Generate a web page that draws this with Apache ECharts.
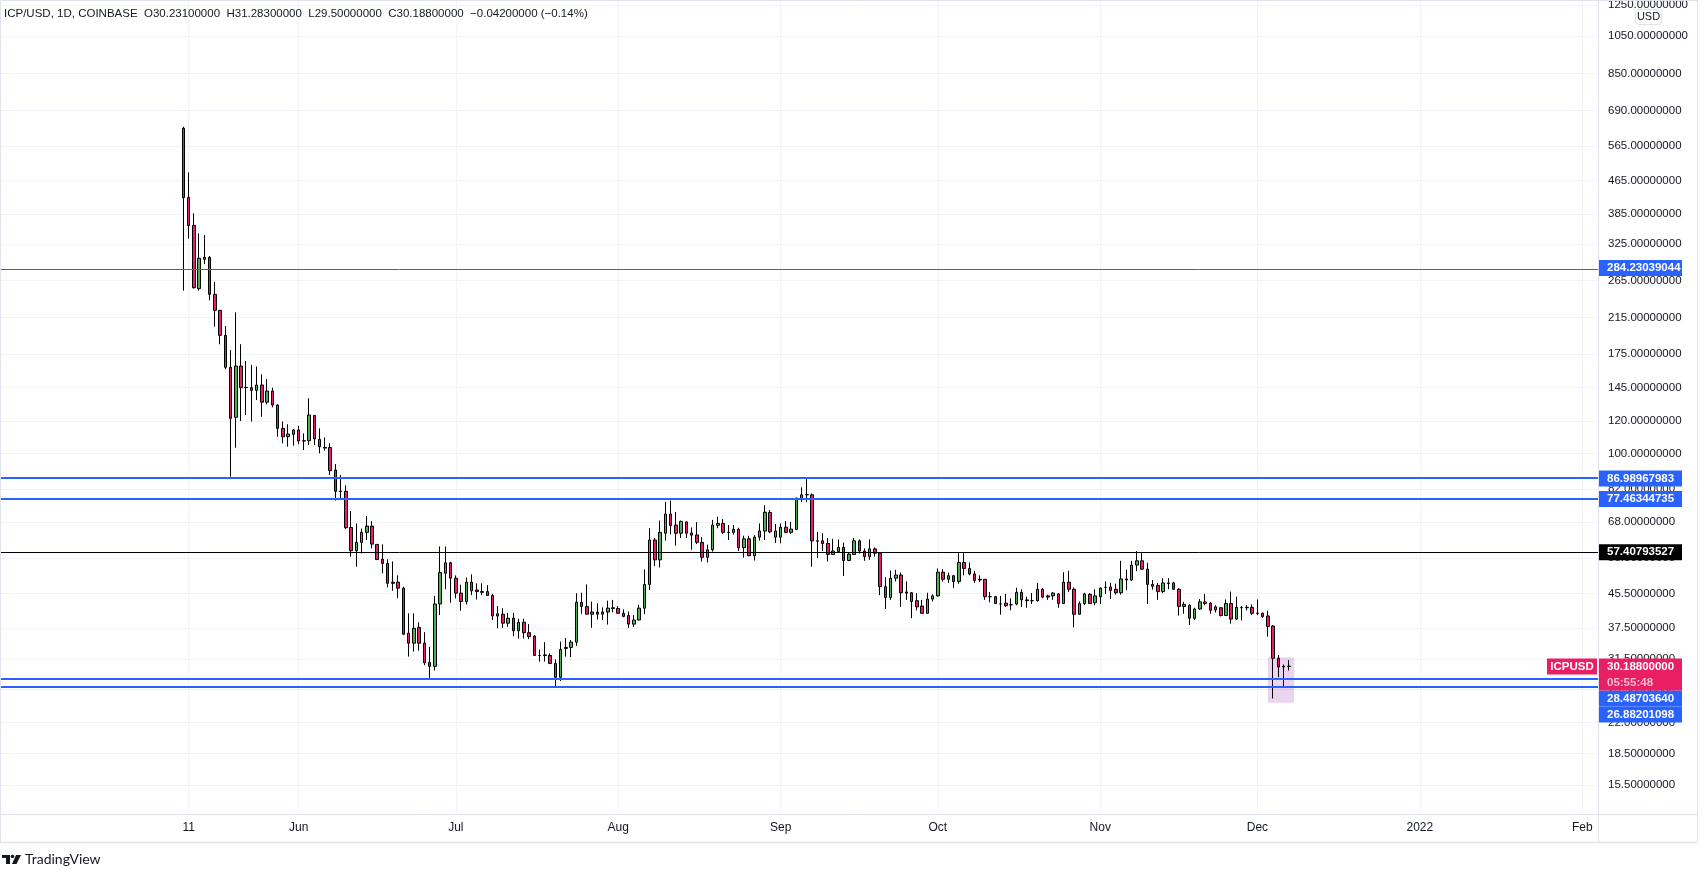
<!DOCTYPE html>
<html>
<head>
<meta charset="utf-8">
<script src="https://cdn.jsdelivr.net/npm/echarts@6/dist/echarts.min.js"></script>
<style>
html,body{margin:0;padding:0;background:#ffffff;}
#chart{width:1708px;height:877px;}
</style>
</head>
<body>
<div id="chart"></div>
<script>
// ---------------- DATA ----------------
const titleText = 'ICP/USD, 1D, COINBASE  O30.23100000  H31.28300000  L29.50000000  C30.18800000  \u22120.04200000 (\u22120.14%)';
const symbolName = 'ICPUSD';
const countdownText = '05:55:48';
const firstCandleDate = '2021-05-10';
const axisStartDate = '2021-04-05';
const axisEndDate = '2022-02-04';

// daily candles, May 10 2021 .. Dec 7 2021
const opens = [
  624.6,423.4,361.5,253.2,298.7,302,245.2,224.1,194.7,162.6,122.7,163.8,145.2,145,142.8,147.2,133.6,142.3,131.5,115.3,110,111.5,
  114.3,107.5,107.5,124,108.4,103.6,103.5,91.2,81,80.9,66,57.9,60.7,64.2,66.5,60,55.2,53.9,48.5,48.5,46.9,36.4,34.4,37.6,34.4,30.9,30.2,42.9,51,54.1,
  49.6,45.6,43.5,48.5,46.4,46,46,45,40.6,40.5,38.5,39.6,36.9,38.7,36.5,35.8,32.1,32.2,32.1,30.7,28.4,33.4,33.6,34.6,43.3,42.3,40.5,41,40.5,41,41.8,
  41.8,40.7,40.2,38.3,39.2,41.9,47.9,61.5,55,63.9,71.2,66.9,63.9,68.1,64,63.3,60.7,55.8,58.2,66.8,67.5,64.2,64.2,65.3,58.9,61.9,56.3,62.5,64.7,71.8,62.5,
  62.5,66.1,64.2,65.3,77.8,79.3,79.3,61.2,61.2,60.3,56.7,57.6,59,54.8,56.7,61.2,57.8,56,58.5,57.1,47.3,44.5,49.6,50.5,45.9,45.7,43.7,42.4,40.7,44.1,
  44.9,51.3,49.3,50.3,48.7,54.2,52.4,50.8,49.3,49.3,44.7,44.7,42.9,43.1,42.7,42.9,45.8,43.9,43.7,43.7,46.6,44.9,44.9,45.4,43,48.5,46.6,40.5,43,45.3,43.2,
  44.7,47.1,47.2,46.6,45.7,49.1,49.1,53.4,54.7,52.2,47.9,47.6,46,48.1,48.3,46.6,42.3,42.6,39.6,41.7,43.4,43.1,41.5,42,40.2,43,39.4,42,42,42.1,
  40.7,40.7,40.1,37.9,31.6,30.1,30.231
];
const highs = [
  630,487.4,386.9,345.7,342.5,304.3,262.9,224.5,205.2,179.2,221.6,185.1,168.5,164.8,163.3,156.3,152.2,145,132,119.8,118,114.9,
  116.9,112.1,136.6,124.3,115.3,109.6,106,94.3,88.7,83.7,72.4,67.5,65.6,70.4,68.4,60.1,60,55.2,54.5,50.4,47.3,40.7,40.7,38.7,36.6,33.7,44.9,59.3,59.3,54.4,
  50.4,47.8,49.8,50.7,48.2,48.2,47.7,45.4,42.4,41.9,40.8,40.8,39.5,39.5,38.3,36,33.2,34.6,32.5,31.4,34.7,35.4,35,45.6,45.7,47.9,43.5,43.1,42.1,43.7,43.9,
  42.4,41.6,41.1,40.3,42.7,52.1,65.7,62.2,68.6,76.2,76.8,72,68.6,68.3,66,68,62.5,59.9,68.9,70.1,69.2,66.9,66.9,65.9,63,63,63.2,67.5,74.8,72.8,67.3,
  67.5,68.4,68.1,78.1,82.7,86.6,79.9,64.4,63.9,62.2,61.9,61.7,60.6,57.2,62.2,61.7,58.7,61.7,59,57.3,49.9,51.8,52,51.2,48.7,45.9,45.6,43.9,45.7,45.3,
  52.4,52.2,51.2,50.4,57.1,57.1,54.2,51.7,50.4,49.3,45.9,44.9,44.9,45.4,44.3,47,46.6,44.7,45.6,48.3,46.9,45.2,45.9,45.6,51.3,51.7,47.1,43.5,45.7,45.6,46.6,
  47.1,48.7,48.3,48.1,54.7,52,54.7,57.8,57.1,54.1,49.1,48.3,49.6,49.6,48.6,46.9,43.4,42.8,42,44.1,45.4,43.4,42.6,42.1,44,46,44.7,42.4,42.6,42.8,
  44,40.9,41.3,38.1,32.2,30.5,31.283
];
const lows = [
  250.3,335.5,253.2,250.3,290.9,237.1,204.4,185.1,160.8,87.8,103.4,120.2,124.3,119.8,135.3,123.1,132,129.8,110,106,104,104.6,
  105.4,102.1,105,105,100.2,101.7,88.7,76.8,77.3,65.4,56,52.9,57,61.5,58.7,54.9,51,47.1,46.2,44.3,36,31.9,32.8,33,30.4,28.3,29.5,40.3,46.6,43.2,
  44.3,41.3,42.8,45.1,44,45.1,44.9,39.2,37.4,37.5,37.7,35.8,35.3,35.3,35.2,32,31,31,30.6,26.9,27.8,31.9,31.8,33.9,40.6,40.5,37.5,39.3,39.2,38.2,40.9,
  40.7,39.8,37.5,37.7,39.1,40.5,46.4,53.1,52.7,61.3,63.5,59.6,62.2,62.2,58.2,60.1,54.5,54.2,57.6,65.7,63.6,61.5,63.4,57.8,55.7,56.1,54.8,61.3,61.5,63.9,60.5,
  60.4,63.9,63.6,65,76.1,76.1,52.9,55.6,57.8,54.5,56.5,57.2,50.2,54.6,56.5,57,54.7,55,56,45.1,41.7,43.9,48.7,42.2,43.9,39.6,41.4,40.7,40.7,43.5,
  44.7,48.7,48.3,46.9,48.1,50.4,50.4,48.3,48.5,43.9,43.3,42.9,40.4,42.2,41.4,42.6,42.2,42,42.9,43.5,44.3,43.9,43.9,42,42.9,45.9,37.6,40.4,42.6,42.9,42.6,
  42.9,45.4,44.1,45.2,45.2,46.4,48.8,51.6,52,42.9,46.5,43.9,45.6,46.6,46.4,40.2,40.6,38.1,39.2,41.5,42.6,40.6,40.9,40,40.1,38.4,39.2,39.1,41.4,40.3,
  40.3,39.7,35.7,25.2,28.4,26.8,29.5
];
const closes = [
  422.6,361,254.6,300.4,302,245.2,224.1,194.7,162.6,122,163.8,145,145,142.8,147.2,133.6,142.3,131.5,115.3,110,111.7,114.3,
  107.4,107.4,124.3,108.6,104,103.2,90.9,80.9,80.8,65.9,57.9,60.7,64.2,66.5,60.1,55.1,53.9,48.2,48.2,46.9,36.2,34.4,37.4,34.4,30.8,30.2,42.9,51.2,54.1,49.6,
  45.6,43.5,48.5,46.2,46,45.8,45,40.1,40.1,38.5,39.6,36.9,38.7,36.5,35.7,32.1,32.1,32.1,30.7,28.4,33.2,33.6,34.6,43.3,42.3,40.5,41,40.5,41,41.9,42,
  40.7,40,38.3,39.2,41.9,47.9,61.5,55,64.2,71.2,66.7,63.9,68.3,63.9,63.2,60.7,55.8,58.2,66.9,67.5,64.2,64.2,65.3,58.9,61.9,56.3,62.5,64.7,71.9,64.4,64.7,
  66.1,64.2,65.4,77.8,79.3,79.4,61.2,61.1,60.3,56.7,57.8,59,54.8,56.8,61.2,57.8,56,58.5,57.1,47.3,44.5,49.6,50.5,45.7,45.6,43.5,42.2,40.7,44.1,44.9,
  51.3,49.3,50.3,48.7,54.2,52.4,50.8,49,49.1,44.7,44.7,43,42.9,42.5,42.7,45.8,43.9,43.7,43.7,46.6,44.6,44.6,45.6,43,48.5,46.6,40.5,43,45.4,43,44.9,
  46.9,47.1,46.3,45.7,49.4,49.4,53.4,54.7,52.2,47.9,47.4,46,48.3,48.3,46.6,42.3,42.8,39.6,41.7,43.4,43,41.4,42.2,40.2,43,39.4,42.1,42.05,42.1,40.7,
  40.75,40,37.8,31.6,30.1,30.23,30.188
];

// price-axis tick values (log scale) and time-axis labels
const priceTicks = [1250,1050,850,690,565,465,385,325,265,215,175,145,120,100,82,68,55.5,45.5,37.5,31.5,26.5,22,18.5,15.5];
const timeLabelDates = ['2021-05-11','2021-06-01','2021-07-01','2021-08-01','2021-09-01','2021-10-01','2021-11-01','2021-12-01','2022-01-01','2022-02-01'];
const timeLabelTexts = ['11','Jun','Jul','Aug','Sep','Oct','Nov','Dec','2022','Feb'];

// drawn horizontal levels
const levelValues = [284.23039044, 86.98967983, 77.46344735, 57.40793527, 28.48703640, 26.88201098];
// highlighted rectangle
const boxDates = ['2021-12-03', '2021-12-08'];
const boxPrices = [31.8, 24.6];

// visible price range of the log axis
const priceMin = 13.15;
const priceMax = 1286;

// ---------------- STYLE ----------------
const FONT = '"Liberation Sans", Arial, sans-serif';
const TEXT = '#131722';
const GRID = '#f0f3fa';
const BORDER = '#e0e3eb';
const UP = '#4caf50';
const DOWN = '#e91e63';
const LEVEL_STYLES = [
  {color:'#2962ff', width:1},
  {color:'#2962ff', width:2},
  {color:'#2962ff', width:2},
  {color:'#000000', width:1},
  {color:'#2962ff', width:2},
  {color:'#2962ff', width:2}
];

// ---------------- BUILD ----------------
function dayList(a, b) {
  const toT = s => Date.UTC(+s.slice(0,4), +s.slice(5,7)-1, +s.slice(8,10));
  const out = [];
  for (let t = toT(a); t <= toT(b); t += 86400000) out.push(new Date(t).toISOString().slice(0,10));
  return out;
}
const lg = v => Math.log10(v);
const categories = dayList(axisStartDate, axisEndDate);
const candleDates = dayList(firstCandleDate, axisEndDate).slice(0, opens.length);
const candleData = candleDates.map((d, i) => [d, lg(opens[i]), lg(closes[i]), lg(lows[i]), lg(highs[i])]);
const labelMap = {};
timeLabelDates.forEach((d, i) => { labelMap[d] = timeLabelTexts[i]; });
const showTime = (idx, val) => labelMap[categories[idx]] !== undefined;
const lastDate = candleDates[candleDates.length - 1];
const lastClose = closes[closes.length - 1];

const chart = echarts.init(document.getElementById('chart'), null, {renderer: 'canvas'});

const W = 1708, H = 877;
const plotRight = 1598, plotBottom = 814, frameRight = 1697, frameBottom = 842;

const option = {
  backgroundColor: '#ffffff',
  animation: false,
  grid: {left: 0, top: 0, right: W - plotRight, bottom: H - plotBottom, containLabel: false, outerBoundsMode: 'none'},
  xAxis: {
    type: 'category',
    data: categories,
    boundaryGap: false,
    axisLine: {show: false},
    axisTick: {show: false},
    axisLabel: {
      interval: showTime,
      formatter: v => labelMap[v] || '',
      color: TEXT, fontFamily: FONT, fontSize: 12, margin: 8
    },
    splitLine: {show: true, interval: showTime, lineStyle: {color: GRID, width: 1}}
  },
  yAxis: {
    type: 'value',
    position: 'right',
    min: lg(priceMin),
    max: lg(priceMax),
    scale: true,
    axisLine: {show: false},
    axisTick: {show: false, customValues: priceTicks.map(lg)},
    axisLabel: {
      customValues: priceTicks.map(lg),
      formatter: v => Math.pow(10, v).toFixed(8),
      color: TEXT, fontFamily: FONT, fontSize: 11.5, margin: 10, align: 'left'
    },
    splitLine: {show: true, lineStyle: {color: GRID, width: 1}}
  },
  series: [
    {
      type: 'candlestick',
      data: candleData,
      encode: {x: 0, y: [1, 2, 3, 4]},
      barWidth: 3,
      itemStyle: {color: UP, color0: DOWN, borderColor: '#000', borderColor0: '#000', borderWidth: 1},
      z: 3,
      markArea: {
        silent: true,
        itemStyle: {color: 'rgba(156,39,176,0.2)'},
        data: [[{coord: [boxDates[0], lg(boxPrices[0])]}, {coord: [boxDates[1], lg(boxPrices[1])]}]]
      },
      markLine: {
        silent: true,
        symbol: ['none', 'none'],
        label: {show: false},
        animation: false,
        data: levelValues.map((v, i) => ({yAxis: lg(v), lineStyle: {type: 'solid', color: LEVEL_STYLES[i].color, width: LEVEL_STYLES[i].width}}))
      }
    },
    {
      type: 'custom',
      coordinateSystem: 'cartesian2d',
      clip: false,
      silent: true,
      z: 20,
      data: [[lastDate, lg(lastClose)]],
      encode: {x: 0, y: 1},
      renderItem: function (params, api) {
        const cs = params.coordSys;
        const right = cs.x + cs.width;
        const xv = api.value(0);
        const yOf = v => api.coord([xv, lg(v)])[1];
        const pY = yOf(lastClose);
        const BH = 16, PH = 32, BW = 84;
        const placed = [[pY - 8, pY - 8 + PH]];
        const tops = [];
        levelValues.map((v, i) => ({i: i, y: yOf(v)})).sort((a, b) => a.y - b.y).forEach(o => {
          let t = o.y - BH / 2, moved = true;
          while (moved) {
            moved = false;
            for (const p of placed) {
              if (t < p[1] - 0.01 && t + BH > p[0] + 0.01) { t = p[1]; moved = true; }
            }
          }
          placed.push([t, t + BH]);
          tops[o.i] = t;
        });
        const txt = (x, y, s, fill, align) => ({
          type: 'text', x: x, y: y,
          style: {text: s, fill: fill, fontSize: 11.5, fontWeight: 'bold', fontFamily: FONT, align: align || 'left', verticalAlign: 'middle', textAlign: align || 'left', textVerticalAlign: 'middle'}
        });
        const children = [];
        levelValues.forEach((v, i) => {
          children.push({type: 'rect', shape: {x: right, y: tops[i], width: BW, height: BH}, style: {fill: LEVEL_STYLES[i].color}});
          children.push(txt(right + 9, tops[i] + BH / 2, v.toFixed(8), '#ffffff'));
        });
        children.push({type: 'rect', shape: {x: right, y: pY - 8, width: BW, height: PH}, style: {fill: DOWN}});
        children.push(txt(right + 9, pY, lastClose.toFixed(8), '#ffffff'));
        children.push(txt(right + 9, pY + 16, countdownText, '#f8bbd0'));
        children.push({type: 'rect', shape: {x: right - 51, y: pY - 8, width: 50, height: BH}, style: {fill: DOWN}});
        children.push(txt(right - 26, pY, symbolName, '#ffffff', 'center'));
        return {type: 'group', children: children};
      }
    }
  ],
  graphic: [
    {type: 'line', silent: true, z: 50, shape: {x1: 0, y1: 0.5, x2: frameRight, y2: 0.5}, style: {stroke: BORDER, lineWidth: 1}},
    {type: 'line', silent: true, z: 50, shape: {x1: 0.5, y1: 0, x2: 0.5, y2: frameBottom}, style: {stroke: BORDER, lineWidth: 1}},
    {type: 'line', silent: true, z: 50, shape: {x1: plotRight + 0.5, y1: 0, x2: plotRight + 0.5, y2: frameBottom}, style: {stroke: BORDER, lineWidth: 1}},
    {type: 'line', silent: true, z: 50, shape: {x1: frameRight + 0.5, y1: 0, x2: frameRight + 0.5, y2: frameBottom}, style: {stroke: BORDER, lineWidth: 1}},
    {type: 'line', silent: true, z: 50, shape: {x1: 0, y1: plotBottom + 0.5, x2: frameRight, y2: plotBottom + 0.5}, style: {stroke: BORDER, lineWidth: 1}},
    {type: 'line', silent: true, z: 50, shape: {x1: 0, y1: frameBottom + 0.5, x2: frameRight, y2: frameBottom + 0.5}, style: {stroke: BORDER, lineWidth: 1.5}},
    {type: 'text', silent: true, z: 50, left: 4, top: 8, style: {text: titleText, fill: TEXT, fontSize: 11.5, fontFamily: FONT}},
    {type: 'rect', silent: true, z: 50, shape: {x: 1635.5, y: 9.5, width: 26, height: 15, r: 3}, style: {fill: '#ffffff', stroke: BORDER, lineWidth: 1}},
    {type: 'text', silent: true, z: 51, x: 1648.5, y: 17, style: {text: 'USD', fill: TEXT, fontSize: 11, fontFamily: FONT, align: 'center', verticalAlign: 'middle'}},
    {type: 'rect', silent: true, z: 50, shape: {x: 2, y: 855, width: 8, height: 3}, style: {fill: '#131722'}},
    {type: 'rect', silent: true, z: 50, shape: {x: 6, y: 855, width: 4, height: 9}, style: {fill: '#131722'}},
    {type: 'circle', silent: true, z: 50, shape: {cx: 12.5, cy: 856.5, r: 1.8}, style: {fill: '#131722'}},
    {type: 'polygon', silent: true, z: 50, shape: {points: [[16, 855], [21, 855], [16.5, 864], [12, 864]]}, style: {fill: '#131722'}},
    {type: 'text', silent: true, z: 50, left: 25, top: 852, style: {text: 'TradingView', fill: TEXT, fontSize: 14, fontFamily: '"Lato", "Liberation Sans", sans-serif'}}
  ]
};
chart.setOption(option);
</script>
</body>
</html>
